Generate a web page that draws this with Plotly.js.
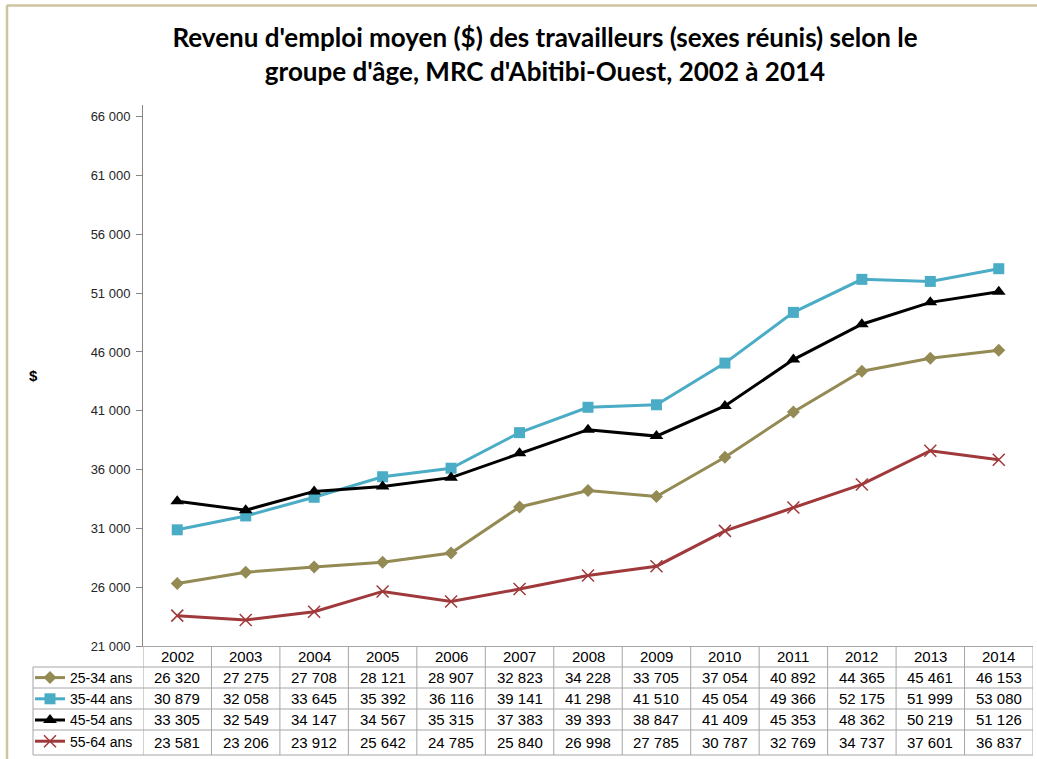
<!DOCTYPE html>
<html>
<head>
<meta charset="utf-8">
<script src="https://cdn.plot.ly/plotly-3.0.1.min.js"></script>
<style>html,body{margin:0;padding:0;background:#fff;overflow:hidden;}#chart{width:1037px;height:759px;}</style>
</head>
<body>
<div id="chart"></div>
<script>
// ---- Data ----
const years = ['2002','2003','2004','2005','2006','2007','2008','2009','2010','2011','2012','2013','2014'];
const seriesNames = ['25-34 ans','35-44 ans','45-54 ans','55-64 ans'];
const v25_34 = [26320,27275,27708,28121,28907,32823,34228,33705,37054,40892,44365,45461,46153];
const v35_44 = [30879,32058,33645,35392,36116,39141,41298,41510,45054,49366,52175,51999,53080];
const v45_54 = [33305,32549,34147,34567,35315,37383,39393,38847,41409,45353,48362,50219,51126];
const v55_64 = [23581,23206,23912,25642,24785,25840,26998,27785,30787,32769,34737,37601,36837];
const yTickVals = [21000,26000,31000,36000,41000,46000,51000,56000,61000,66000];
const titleText = "Revenu d'emploi moyen ($) des travailleurs (sexes réunis) selon le<br>groupe d'âge, MRC d'Abitibi-Ouest, 2002 à 2014";
const yAxisLabel = '$';

// ---- Styles ----
const allValues = [v25_34, v35_44, v45_54, v55_64];
const colors = ['#948A54', '#4BACC6', '#000000', '#A0393B'];
const symbols = ['diamond', 'square', 'triangle-up', 'x-thin-open'];
const msizes = [10, 11, 12, 12];

const W = 1037, H = 759;
const L = 143, R = 1033, T = 105, B = 646;
const px2x = p => (p - L) / (R - L);
const py2y = p => (B - p) / (B - T);

const traces = allValues.map((vals, i) => ({
  type: 'scatter', mode: 'lines+markers',
  x: years, y: vals, name: seriesNames[i],
  line: {color: colors[i], width: 3},
  marker: symbols[i] === 'x-thin-open'
    ? {symbol: symbols[i], size: msizes[i], color: colors[i], line: {color: colors[i], width: 1.5}}
    : {symbol: symbols[i], size: msizes[i], color: colors[i]},
  hoverinfo: 'x+y+name'
}));

const fmt = n => String(n).replace(/\B(?=(\d{3})+(?!\d))/g, ' ');

// table geometry (pixels)
const rowLines = [667, 688, 709, 730, 755];
const rowCenters = [656.5, 677.5, 698.5, 719.5, 742];
const tableLeft = 33;
const gridColor = '#A6A6A6';
const tableFont = {family: 'Liberation Sans, Arial, sans-serif', size: 15, color: '#000'};
const borderColor = '#CEC5A0';

const shapes = [];
// outer chart border (left and top edges visible)
shapes.push({type: 'line', xref: 'paper', yref: 'paper', x0: px2x(7), x1: px2x(7), y0: py2y(5), y1: py2y(800),
  line: {color: borderColor, width: 2.5}});
shapes.push({type: 'line', xref: 'paper', yref: 'paper', x0: px2x(7), x1: px2x(1060), y0: py2y(5.5), y1: py2y(5.5),
  line: {color: borderColor, width: 2.5}});
// vertical column lines
for (let j = 0; j <= years.length; j++) {
  shapes.push({type: 'line', xref: 'x', yref: 'paper', x0: j - 0.5, x1: j - 0.5,
    y0: py2y(B), y1: py2y(rowLines[rowLines.length - 1]), line: {color: gridColor, width: 1}});
}
// horizontal lines
rowLines.forEach(p => shapes.push({type: 'line', xref: 'paper', yref: 'paper',
  x0: px2x(tableLeft), x1: 1, y0: py2y(p), y1: py2y(p), line: {color: gridColor, width: 1}}));
// legend column left border
shapes.push({type: 'line', xref: 'paper', yref: 'paper', x0: px2x(tableLeft), x1: px2x(tableLeft),
  y0: py2y(rowLines[0]), y1: py2y(rowLines[rowLines.length - 1]), line: {color: gridColor, width: 1}});

const annotations = [];
years.forEach((yr, j) => annotations.push({xref: 'x', yref: 'paper', x: j, y: py2y(rowCenters[0]),
  text: yr, showarrow: false, xanchor: 'center', yanchor: 'middle', font: tableFont}));
allValues.forEach((vals, i) => vals.forEach((v, j) => annotations.push({xref: 'x', yref: 'paper',
  x: j, y: py2y(rowCenters[i + 1]), text: fmt(v), showarrow: false, xanchor: 'center', yanchor: 'middle',
  font: tableFont})));
annotations.push({xref: 'paper', yref: 'paper', x: px2x(33), y: py2y(375), text: '<b>' + yAxisLabel + '</b>',
  showarrow: false, xanchor: 'center', yanchor: 'middle',
  font: {family: 'Liberation Sans, Arial, sans-serif', size: 15, color: '#000'}});

const layout = {
  width: W, height: H,
  margin: {l: L, r: W - R, t: T, b: H - B, pad: 0, autoexpand: false},
  paper_bgcolor: '#fff', plot_bgcolor: '#fff',
  separators: ', ',
  title: {text: '<b>' + titleText + '</b>', xref: 'container', yref: 'container',
    x: 545 / W, xanchor: 'center', y: 1 - 47 / H, yanchor: 'top', automargin: false,
    font: {family: 'Lato, Calibri, sans-serif', size: 26, color: '#000'}},
  showlegend: true,
  legend: {x: px2x(30), xanchor: 'left', y: py2y(662), yanchor: 'top',
    bgcolor: 'rgba(0,0,0,0)', borderwidth: 0, traceorder: 'normal',
    font: {family: 'Liberation Sans, Arial, sans-serif', size: 14, color: '#000'}},
  xaxis: {type: 'category', range: [-0.5, years.length - 0.5], showgrid: false, zeroline: false,
    showline: true, linecolor: gridColor, linewidth: 1, showticklabels: false, ticks: '', fixedrange: true},
  yaxis: {range: [21000, 67000], tickvals: yTickVals, tickformat: ',d', showgrid: false, zeroline: false,
    showline: true, linecolor: '#868686', linewidth: 1, ticks: 'outside', ticklen: 6, tickcolor: '#868686',
    ticklabelstandoff: 3,
    tickfont: {family: 'Liberation Sans, Arial, sans-serif', size: 13, color: '#262626'}, fixedrange: true},
  shapes: shapes,
  annotations: annotations
};

Plotly.newPlot('chart', traces, layout, {displayModeBar: false, responsive: false});
</script>
</body>
</html>
